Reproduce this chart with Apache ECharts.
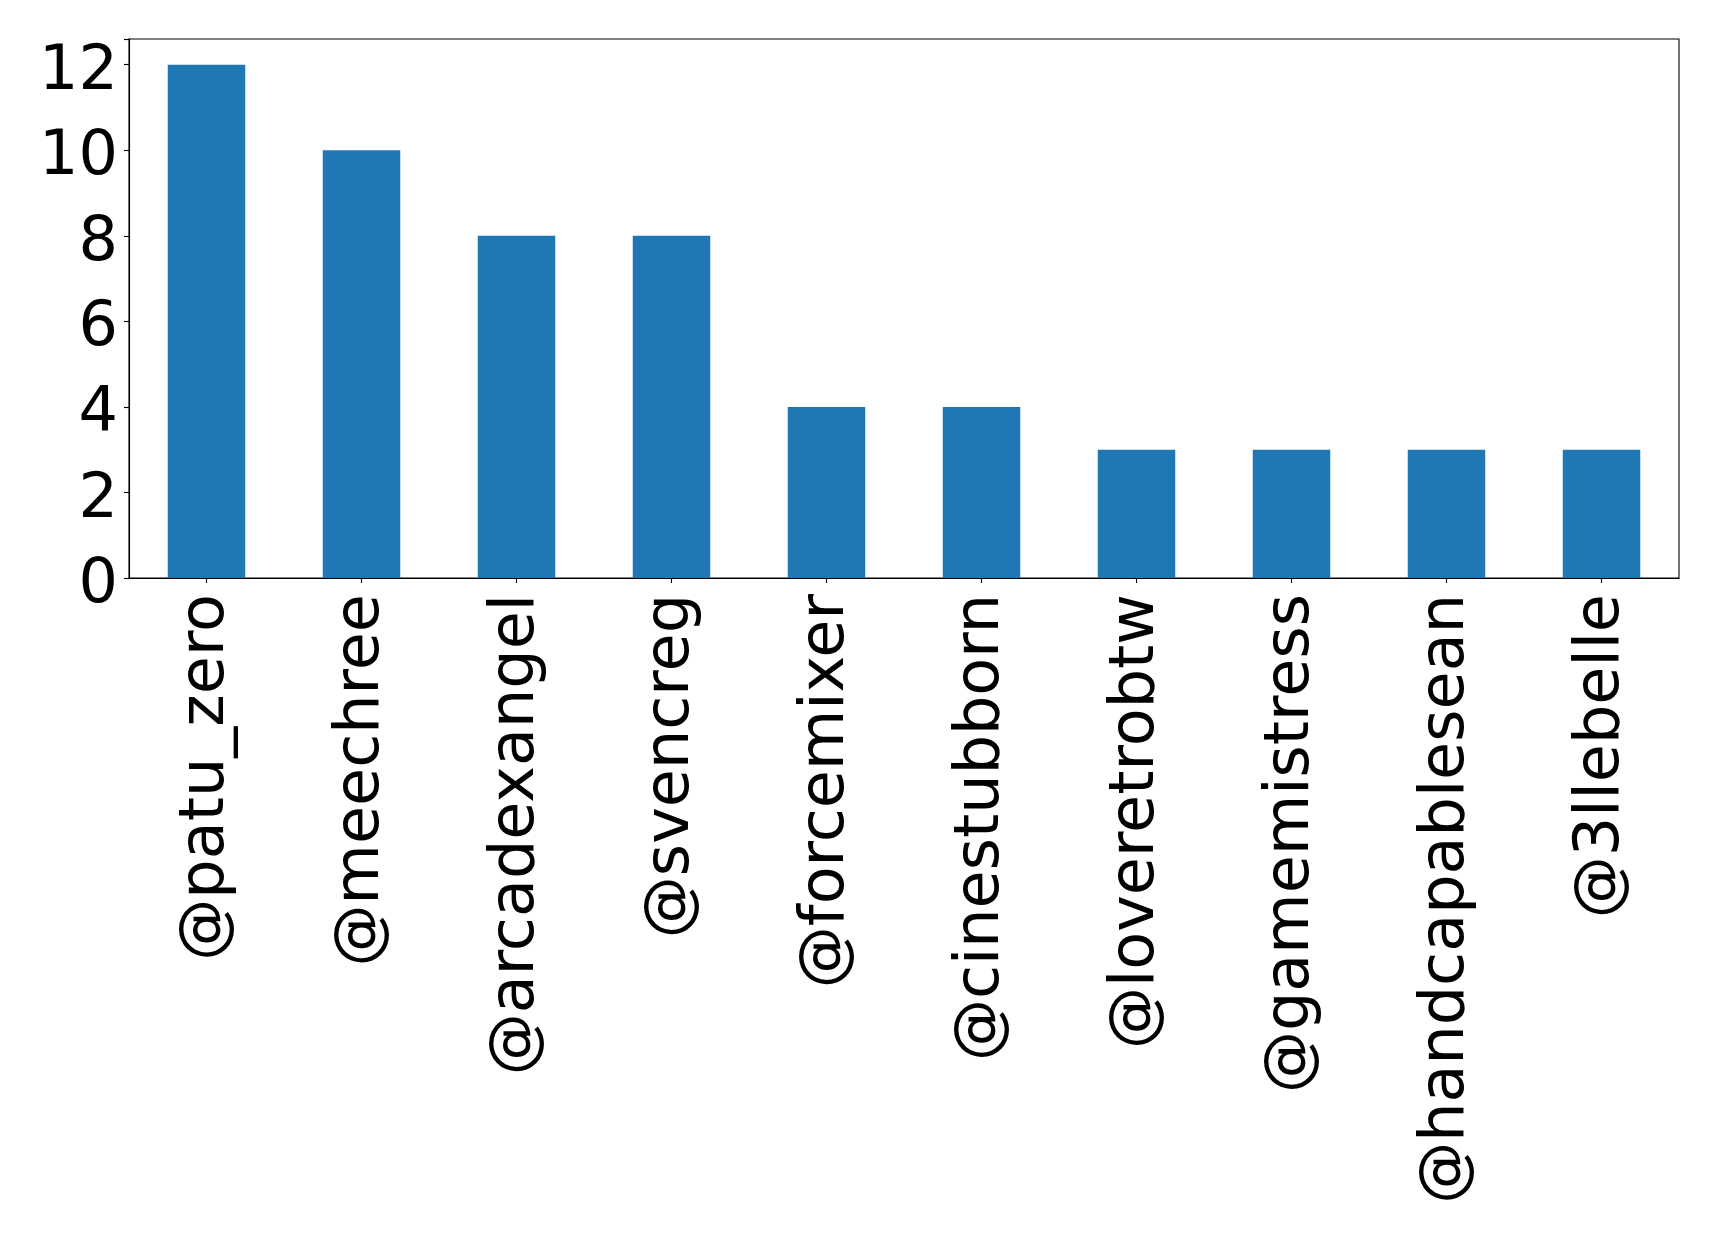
<!DOCTYPE html>
<html>
<head>
<meta charset="utf-8">
<script src="https://cdn.jsdelivr.net/npm/echarts@6/dist/echarts.min.js"></script>
<style>html,body{margin:0;padding:0;background:#fff}#c{width:1719px;height:1242px}</style>
</head>
<body>
<div id="c"></div>
<script>
const categories = ["@patu_zero","@meechree","@arcadexangel","@svencreg","@forcemixer","@cinestubborn","@loveretrobtw","@gamemistress","@handcapablesean","@3llebelle"];
const values = [12, 10, 8, 8, 4, 4, 3, 3, 3, 3];
const yTicks = [0, 2, 4, 6, 8, 10, 12];

const chart = echarts.init(document.getElementById('c'), null, {renderer: 'canvas'});
const font = '"DejaVu Sans", sans-serif';
chart.setOption({
  animation: false,
  backgroundColor: '#ffffff',
  grid: {left: 129, right: 40, top: 39, bottom: 664, show: true, borderColor: '#000', borderWidth: 1.1, backgroundColor: 'transparent'},
  xAxis: {
    type: 'category',
    data: categories,
    boundaryGap: true,
    axisLine: {show: true, lineStyle: {color: '#000', width: 1.1}},
    axisTick: {show: true, alignWithLabel: true, length: 5, lineStyle: {color: '#000', width: 1.1}},
    axisLabel: {rotate: 90, margin: 16, fontSize: 62, color: '#000', fontFamily: font, interval: 0}
  },
  yAxis: {
    type: 'value',
    min: 0, max: 12.6, interval: 2,
    splitLine: {show: false},
    axisLine: {show: true, lineStyle: {color: '#000', width: 1.1}},
    axisTick: {show: true, length: 5, lineStyle: {color: '#000', width: 1.1}},
    axisLabel: {margin: 11, fontSize: 62, color: '#000', fontFamily: font,
      formatter: v => yTicks.includes(v) ? '{a|' + v + '}' : '',
      rich: {a: {fontSize: 62, fontFamily: font, color: '#000', padding: [16, 0, 0, 0]}}}
  },
  series: [{
    type: 'bar',
    data: values,
    barWidth: '50%',
    itemStyle: {color: '#1f77b4'}
  }]
});
</script>
</body>
</html>
